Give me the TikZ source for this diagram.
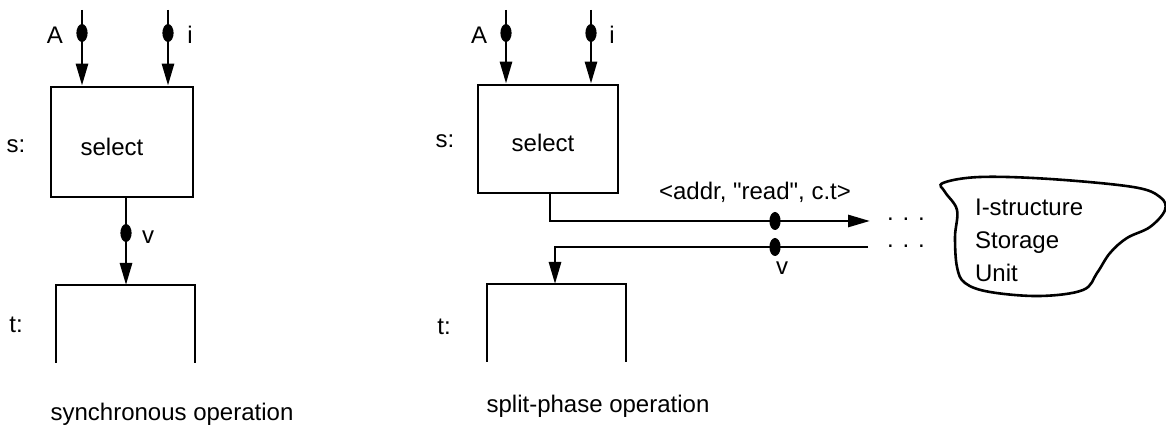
\documentclass[tikz,border=0pt]{standalone}
\usepackage{fontspec}
\setmainfont{Liberation Sans}[Ligatures=TeXOff]
\usetikzlibrary{arrows.meta,positioning}

\begin{document}
\begin{tikzpicture}[x=0.5pt,y=-0.5pt,>={Triangle[length=11pt,width=6pt]},line width=1.4pt,
  font=\fontsize{12}{14}\selectfont]
  \useasboundingbox (0,0) rectangle (1166,431);
  % synchronous operation
  \node[draw,minimum width=71pt,minimum height=55pt,inner sep=0pt] (sel1) at (122,142) {};
  \node (selt1) at (112,147) {select};
  \node (s1) at (16,146) {s:};
  \coordinate (a1) at (82,10);
  \coordinate (i1) at (168,10);
  \coordinate (t1bl) at (56,363);
  \coordinate (t1tl) at (56,285);
  \coordinate (t1tr) at (195,285);
  \coordinate (t1br) at (195,363);
  \coordinate (t1in) at (126,285);
  \draw[->] (a1) -- (a1 |- sel1.north);
  \draw[->] (i1) -- (i1 |- sel1.north);
  \draw[->] (t1in |- sel1.south) -- (t1in);
  \draw (t1bl) -- (t1tl) -- (t1tr) -- (t1br);
  \fill (82,33) ellipse (2.8pt and 4.5pt);
  \fill (168,33) ellipse (2.8pt and 4.5pt);
  \fill (126,233) ellipse (2.8pt and 4.5pt);
  \node (A1) at (55,35) {A};
  \node (in1) at (190,35) {i};
  \node (v1) at (148,237) {v};
  \node (t1) at (16,325) {t:};
  \node (cap1) at (172,414) {synchronous operation};
  % split-phase operation
  \node[draw,minimum width=70pt,minimum height=54pt,inner sep=0pt] (sel2) at (548,139) {};
  \node (selt2) at (543,143) {select};
  \node (s2) at (445,141) {s:};
  \coordinate (a2) at (506,10);
  \coordinate (i2) at (591,10);
  \coordinate (out2) at (550,193);
  \coordinate (req) at (870,221);
  \coordinate (rep) at (868,247);
  \coordinate (t2bl) at (487,362);
  \coordinate (t2tl) at (487,284);
  \coordinate (t2tr) at (626,284);
  \coordinate (t2br) at (626,362);
  \coordinate (t2in) at (555,284);
  \draw[->] (a2) -- (a2 |- sel2.north);
  \draw[->] (i2) -- (i2 |- sel2.north);
  \draw[->] (out2) |- (req);
  \draw[->] (rep) -| (t2in);
  \draw (t2bl) -- (t2tl) -- (t2tr) -- (t2br);
  \fill (506,33) ellipse (2.8pt and 4.5pt);
  \fill (591,33) ellipse (2.8pt and 4.5pt);
  \fill (775,221) ellipse (2.8pt and 4.5pt);
  \fill (775,247) ellipse (2.8pt and 4.5pt);
  \node (A2) at (479,35) {A};
  \node (in2) at (612,35) {i};
  \node (msg) at (755,192) {<addr, "read", c.t>};
  \node (v2) at (782,268) {v};
  \node (t2) at (444,327) {t:};
  \node (dots1) at (906,219) {. . .};
  \node (dots2) at (906,246) {. . .};
  \node (cap2) at (598,406) {split-phase operation};
  % I-structure storage unit
  \node[align=left,anchor=west,font=\fontsize{12}{16.5}\selectfont] (isu) at (967,240) {I-structure\\Storage\\Unit};
  \draw[line width=1.3pt] plot[smooth cycle,tension=0.6] coordinates {
    (943,183) (980,177) (1050,179) (1133,187) (1160,197) (1165,210) (1150,227)
    (1127,238) (1110,253) (1097,273) (1083,290) (1040,296) (990,292) (965,283)
    (957,267) (955,237) (957,210) (945,192)};
\end{tikzpicture}
\end{document}
